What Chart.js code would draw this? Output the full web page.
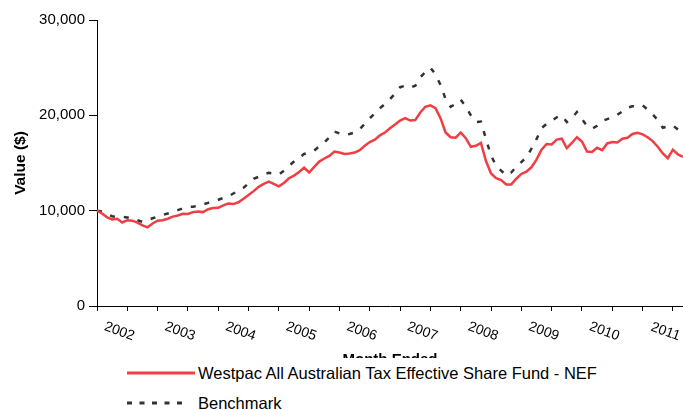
<!DOCTYPE html>
<html>
<head>
<meta charset="utf-8">
<script src="https://cdn.jsdelivr.net/npm/chart.js@4.4.1/dist/chart.umd.min.js"></script>
<style>
  body { margin: 0; background: #fff; }
  #wrap { position: relative; width: 683px; height: 410px; font-family: 'Liberation Sans', Arial, sans-serif; }
  #legend { position: absolute; left: 100px; top: 358px; width: 583px; height: 52px; background: #fff; }
  .row { position: absolute; left: 0; height: 20px; }
  .row svg { position: absolute; left: 27px; top: 8px; }
  .row span { position: absolute; left: 98px; top: 0; font-size: 16.5px; line-height: 20px; color: #000; white-space: nowrap; }
</style>
</head>
<body>
<div id="wrap">
  <canvas id="myChart" width="683" height="410"></canvas>
  <div id="legend"></div>
</div>
<script>
const years = ['2002', '2003', '2004', '2005', '2006', '2007', '2008', '2009', '2010', '2011'];
const months = ['Jan', 'Feb', 'Mar', 'Apr', 'May', 'Jun', 'Jul', 'Aug', 'Sep', 'Oct', 'Nov', 'Dec'];
const yearTicks = years;

// monthly values, Jan 2002 .. Sep 2011
const fund = [
  10000, 9700, 9300, 9080, 9150, 8760, 9000, 8950, 8750, 8450, 8250, 8650,
  8950, 9000, 9150, 9380, 9500, 9680, 9650, 9850, 9920, 9850, 10150, 10270,
  10300, 10550, 10740, 10690, 10880, 11250, 11650, 12050, 12500, 12800, 13050, 12800,
  12550, 12900, 13400, 13680, 14050, 14500, 14000, 14600, 15150, 15470, 15750, 16200,
  16100, 15950, 16000, 16100, 16350, 16800, 17200, 17450, 17900, 18200, 18650, 19050,
  19450, 19700, 19450, 19500, 20300, 20900, 21050, 20750, 19700, 18200, 17700, 17650,
  18200, 17600, 16700, 16800, 17100, 15200, 13900, 13400, 13200, 12750, 12750, 13350,
  13850, 14100, 14550, 15350, 16400, 17000, 16950, 17450, 17550, 16550, 17100, 17700,
  17250, 16200, 16150, 16600, 16350, 17050, 17200, 17150, 17550, 17650, 18050, 18170,
  18000, 17700, 17300, 16700, 16000, 15500, 16400, 15900, 15650
];
const benchmark = [
  10000, 9900, 9650, 9420, 9330, 9350, 9290, 9200, 9000, 8830, 9000, 9200,
  9380, 9550, 9700, 9850, 10050, 10250, 10380, 10420, 10480, 10650, 10820, 11000,
  11150, 11330, 11500, 11800, 12100, 12400, 12850, 13350, 13550, 13800, 13970, 13900,
  13800, 14200, 14700, 15150, 15550, 15950, 16100, 16300, 16750, 17150, 17700, 18300,
  18100, 17950, 18050, 18200, 18550, 19100, 19700, 20200, 20750, 21200, 21700, 22300,
  22950, 23100, 22900, 23100, 24000, 24550, 25000, 24300, 23200, 21700, 20900, 21200,
  21650, 20900, 20000, 19300, 19350, 17500, 15800, 14700, 14200, 13700, 14000, 14600,
  15100, 15600, 16500, 17500, 18650, 19100, 19400, 19800, 20000, 19300, 19700, 20350,
  19600, 18900, 18600, 18900, 19400, 19600, 19800, 20050, 20400, 20800, 20950, 21000,
  21050, 20600, 20100, 19500, 18700, 18850, 18950, 18500, 18400
];

const categories = [];
years.forEach(y => months.forEach(m => {
  if (categories.length < fund.length) categories.push(m + ' ' + y);
}));

Chart.defaults.font.family = "'Liberation Sans', Arial, sans-serif";
Chart.defaults.color = '#000';

const data = {
  labels: categories,
  datasets: [
    {
      label: 'Westpac All Australian Tax Effective Share Fund - NEF',
      data: fund,
      borderColor: '#ef3e44',
      borderWidth: 2.5,
      pointRadius: 0,
      tension: 0
    },
    {
      label: 'Benchmark',
      data: benchmark,
      borderColor: '#333333',
      borderWidth: 2.5,
      borderDash: [5, 9],
      pointRadius: 0,
      tension: 0
    }
  ]
};

const config = {
  type: 'line',
  data: data,
  options: {
    responsive: false,
    animation: false,
    layout: { padding: { top: 20, right: 0, bottom: 0, left: 0 } },
    plugins: { legend: { display: false }, tooltip: { enabled: false } },
    scales: {
      x: {
        grid: {
          drawOnChartArea: false,
          tickLength: 5,
          tickColor: (c) => c.index % 6 === 0 ? '#000' : 'rgba(0,0,0,0)'
        },
        border: { color: '#000' },
        ticks: {
          autoSkip: false,
          minRotation: -20,
          maxRotation: -20,
          labelOffset: 37,
          padding: 18,
          font: { size: 14 },
          callback: (v, i) => i % 12 === 0 ? yearTicks[i / 12] : ''
        },
        title: {
          display: true,
          text: 'Month Ended',
          font: { size: 15, weight: 'bold' },
          padding: { top: 0, bottom: 41 }
        },
        afterFit: (s) => { s.height = 104; s.paddingLeft = 0; s.paddingRight = 0; }
      },
      y: {
        min: 0,
        max: 30000,
        ticks: {
          stepSize: 10000,
          padding: 4,
          font: { size: 15 },
          callback: (v) => v.toLocaleString('en-US')
        },
        grid: { drawOnChartArea: false, tickLength: 8, tickColor: '#000' },
        border: { color: '#000' },
        title: {
          display: true,
          text: 'Value ($)',
          font: { size: 15.5, weight: 'bold' },
          padding: { top: 11, bottom: 0 }
        },
        afterFit: (s) => { s.width = 97; s.paddingTop = 0; s.paddingBottom = 0; }
      }
    }
  }
};

const ctx = document.getElementById('myChart').getContext('2d');
const myChart = new Chart(ctx, config);

// legend in html so it can sit over the axis title like the original
const legend = document.getElementById('legend');
myChart.data.datasets.forEach((ds, i) => {
  const row = document.createElement('div');
  row.className = 'row';
  row.style.top = (5 + i * 30) + 'px';
  const len = ds.borderDash ? 62 : 68;
  const dash = ds.borderDash ? ' stroke-dasharray="5 7.5"' : '';
  row.innerHTML = '<svg width="' + len + '" height="4"><line x1="0" y1="2" x2="' + len + '" y2="2" stroke="' +
    ds.borderColor + '" stroke-width="3"' + dash + '/></svg><span>' + ds.label + '</span>';
  legend.appendChild(row);
});
</script>
</body>
</html>
